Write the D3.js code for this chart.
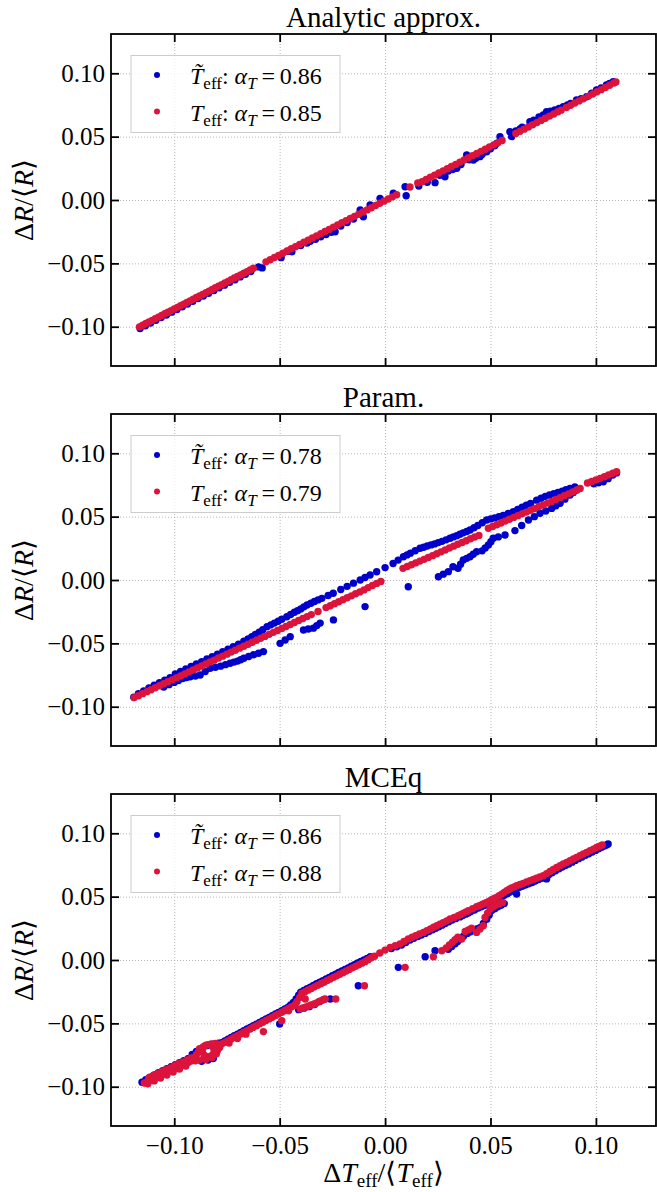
<!DOCTYPE html>
<html>
<head>
<meta charset="utf-8">
<script src="https://cdn.jsdelivr.net/npm/d3@7"></script>
<style>
html, body { margin: 0; padding: 0; background: #fff; }
svg { display: block; }
svg text { font-family: "Liberation Serif", "Times New Roman", serif; }
</style>
</head>
<body>
<svg id="chart" width="657" height="1192"></svg>
<script>
// ---- Panel titles, legend values and ticks ----
const panelTitles = ["Analytic approx.", "Param.", "MCEq"];
const alphaTilde = ["0.86", "0.78", "0.86"];
const alphaPlain = ["0.85", "0.79", "0.88"];
const xTicks = [-0.10, -0.05, 0.00, 0.05, 0.10];
const yTicks = [-0.10, -0.05, 0.00, 0.05, 0.10];

// ---- Analytic approx.: [ΔT/<T>, ΔR/<R>] ----
const analyticTilde = [
  [-0.1162,-0.1014],[-0.1137,-0.0992],[-0.1112,-0.0971],[-0.1087,-0.0949],[-0.1062,-0.0928],[-0.1037,-0.0907],
  [-0.1012,-0.0885],[-0.0987,-0.0864],[-0.0962,-0.0843],[-0.0937,-0.0821],[-0.0912,-0.0800],[-0.0887,-0.0778],
  [-0.0862,-0.0757],[-0.0837,-0.0736],[-0.0812,-0.0714],[-0.0787,-0.0693],[-0.0762,-0.0672],[-0.0737,-0.0650],
  [-0.0712,-0.0629],[-0.0687,-0.0607],[-0.0662,-0.0586],[-0.0637,-0.0565],
  [-0.0583,-0.0536],[-0.0600,-0.0528],[-0.0493,-0.0455],[-0.0442,-0.0408],[-0.0460,-0.0405],[-0.0400,-0.0360],
  [-0.0370,-0.0339],[-0.0355,-0.0325],[-0.0330,-0.0310],[-0.0305,-0.0290],[-0.0280,-0.0272],[-0.0255,-0.0255],
  [-0.0237,-0.0250],[-0.0210,-0.0205],[-0.0180,-0.0178],[-0.0150,-0.0150],[-0.0118,-0.0079],[-0.0103,-0.0132],
  [-0.0071,-0.0039],[-0.0024,0.0013],[0.0039,0.0053],[0.0095,0.0105],[0.0100,0.0034],[0.0160,0.0110],
  [0.0200,0.0140],[0.0237,0.0137],[0.0260,0.0195],[0.0284,0.0184],[0.0300,0.0228],[0.0320,0.0240],
  [0.0340,0.0250],[0.0360,0.0280],[0.0387,0.0355],[0.0400,0.0318],[0.0419,0.0315],[0.0430,0.0330],
  [0.0450,0.0342],[0.0460,0.0360],[0.0482,0.0381],[0.0500,0.0405],[0.0520,0.0428],[0.0529,0.0447],
  [0.0545,0.0500],[0.0592,0.0539],[0.0600,0.0500],[0.0620,0.0545],[0.0640,0.0560],[0.0650,0.0575],
  [0.0687,0.0618],[0.0705,0.0630],[0.0730,0.0655],[0.0750,0.0672],[0.0766,0.0696],[0.0785,0.0700],
  [0.0805,0.0710],[0.0825,0.0722],[0.0845,0.0736],[0.0865,0.0750],[0.0880,0.0762],[0.0908,0.0789],
  [0.0930,0.0800],[0.0956,0.0815],[0.0980,0.0842],[0.1003,0.0868],[0.1025,0.0885],[0.1050,0.0907],
  [0.1065,0.0920],[0.1082,0.0933]
];
const analyticPlain = [
  [-0.1165,-0.1001],[-0.1150,-0.0988],[-0.1135,-0.0975],[-0.1120,-0.0963],[-0.1105,-0.0950],[-0.1090,-0.0937],
  [-0.1075,-0.0924],[-0.1060,-0.0911],[-0.1045,-0.0898],[-0.1030,-0.0886],[-0.1015,-0.0873],[-0.1000,-0.0860],
  [-0.0985,-0.0847],[-0.0970,-0.0834],[-0.0955,-0.0822],[-0.0940,-0.0809],[-0.0925,-0.0796],[-0.0910,-0.0783],
  [-0.0895,-0.0770],[-0.0880,-0.0757],[-0.0865,-0.0745],[-0.0850,-0.0732],[-0.0835,-0.0719],[-0.0820,-0.0706],
  [-0.0805,-0.0693],[-0.0790,-0.0680],[-0.0775,-0.0668],[-0.0760,-0.0655],[-0.0745,-0.0642],[-0.0730,-0.0629],
  [-0.0715,-0.0616],[-0.0700,-0.0604],[-0.0685,-0.0591],[-0.0670,-0.0578],[-0.0655,-0.0565],[-0.0640,-0.0552],
  [-0.0625,-0.0539],
  [-0.0565,-0.0488],[-0.0545,-0.0471],[-0.0525,-0.0454],[-0.0505,-0.0437],[-0.0485,-0.0420],[-0.0465,-0.0403],
  [-0.0445,-0.0385],[-0.0425,-0.0368],[-0.0405,-0.0351],[-0.0385,-0.0334],[-0.0365,-0.0317],[-0.0345,-0.0300],
  [-0.0325,-0.0283],[-0.0305,-0.0266],[-0.0285,-0.0249],[-0.0265,-0.0232],[-0.0245,-0.0214],[-0.0225,-0.0197],
  [-0.0205,-0.0180],[-0.0185,-0.0163],[-0.0165,-0.0146],[-0.0145,-0.0129],[-0.0125,-0.0112],[-0.0105,-0.0095],
  [-0.0085,-0.0078],[-0.0065,-0.0061],[-0.0045,-0.0043],[-0.0025,-0.0026],[-0.0005,-0.0009],[0.0015,0.0008],
  [0.0035,0.0025],[0.0055,0.0042],
  [0.0118,0.0102],[0.0155,0.0135],[0.0175,0.0145],[0.0195,0.0162],[0.0215,0.0179],[0.0235,0.0196],
  [0.0255,0.0213],[0.0275,0.0230],[0.0295,0.0247],[0.0315,0.0264],[0.0335,0.0281],[0.0355,0.0299],
  [0.0375,0.0316],[0.0395,0.0333],[0.0415,0.0350],[0.0435,0.0367],[0.0455,0.0384],[0.0475,0.0401],
  [0.0495,0.0418],[0.0515,0.0435],[0.0535,0.0452],[0.0555,0.0470],
  [0.0620,0.0525],[0.0640,0.0542],[0.0660,0.0559],[0.0680,0.0576],[0.0700,0.0594],[0.0720,0.0611],
  [0.0740,0.0628],[0.0760,0.0645],[0.0780,0.0662],[0.0800,0.0679],[0.0820,0.0696],[0.0835,0.0709],
  [0.0860,0.0730],[0.0880,0.0747],[0.0900,0.0765],[0.0920,0.0782],[0.0940,0.0799],
  [0.0965,0.0820],[0.0985,0.0837],[0.1005,0.0854],[0.1025,0.0871],[0.1045,0.0888],[0.1065,0.0906],
  [0.1085,0.0923],[0.1095,0.0931]
];

// ---- Param. ----
const paramTilde = [
  [-0.1192,-0.0925],[-0.1170,-0.0898],[-0.1145,-0.0875],[-0.1120,-0.0852],[-0.1095,-0.0831],[-0.1070,-0.0811],
  [-0.1045,-0.0791],[-0.1020,-0.0771],[-0.0995,-0.0741],[-0.0970,-0.0722],[-0.0945,-0.0702],[-0.0920,-0.0683],
  [-0.0895,-0.0663],[-0.0870,-0.0644],[-0.0845,-0.0624],[-0.0820,-0.0605],[-0.0795,-0.0585],[-0.0770,-0.0566],
  [-0.0745,-0.0546],[-0.0720,-0.0527],[-0.0695,-0.0507],[-0.0670,-0.0483],[-0.0650,-0.0466],[-0.0632,-0.0448],
  [-0.0615,-0.0430],[-0.0597,-0.0411],[-0.0580,-0.0392],[-0.0560,-0.0368],[-0.0542,-0.0354],[-0.0525,-0.0340],
  [-0.0507,-0.0325],[-0.0490,-0.0310],[-0.0466,-0.0290],[-0.0448,-0.0272],[-0.0430,-0.0255],[-0.0415,-0.0242],
  [-0.0400,-0.0228],[-0.0385,-0.0212],[-0.0370,-0.0197],[-0.0352,-0.0183],[-0.0335,-0.0170],[-0.0318,-0.0157],
  [-0.0300,-0.0145],[-0.0270,-0.0122],[-0.0246,-0.0105],[-0.0210,-0.0075],[-0.0180,-0.0050],[-0.0150,-0.0025],
  [-0.0118,0.0000],[-0.0095,0.0020],[-0.0071,0.0039],[-0.0040,0.0065],[0.0000,0.0098],[0.0038,0.0130],
  [0.0062,0.0157],[0.0087,0.0184],[0.0104,0.0198],[0.0120,0.0212],[0.0143,0.0231],[0.0166,0.0250],
  [0.0183,0.0259],[0.0200,0.0268],[0.0218,0.0277],[0.0235,0.0285],[0.0252,0.0295],[0.0270,0.0305],
  [0.0289,0.0317],[0.0308,0.0329],[0.0324,0.0340],[0.0340,0.0350],[0.0355,0.0361],[0.0370,0.0372],
  [0.0387,0.0383],[0.0403,0.0394],[0.0422,0.0412],[0.0440,0.0430],[0.0461,0.0452],[0.0482,0.0473],
  [0.0501,0.0482],[0.0520,0.0490],[0.0540,0.0500],[0.0560,0.0510],[0.0584,0.0525],[0.0608,0.0539],
  [0.0629,0.0557],[0.0650,0.0575],[0.0670,0.0590],[0.0690,0.0605],[0.0719,0.0630],[0.0740,0.0645],
  [0.0760,0.0660],[0.0780,0.0671],[0.0800,0.0682],[0.0820,0.0691],[0.0840,0.0700],[0.0858,0.0712],
  [0.0877,0.0723],[0.0900,0.0735],[0.0990,0.0760],[0.1012,0.0768],[0.1035,0.0775],[0.1058,0.0800],
  [0.1080,0.0828],[0.1098,0.0845],
  [-0.1050,-0.0845],[-0.1025,-0.0826],[-0.1000,-0.0808],[-0.0980,-0.0793],[-0.0960,-0.0778],[-0.0942,-0.0770],
  [-0.0924,-0.0763],[-0.0900,-0.0757],[-0.0877,-0.0750],[-0.0853,-0.0723],[-0.0830,-0.0697],[-0.0805,-0.0688],
  [-0.0780,-0.0680],[-0.0757,-0.0668],[-0.0735,-0.0657],[-0.0717,-0.0648],[-0.0700,-0.0640],[-0.0685,-0.0629],
  [-0.0670,-0.0618],[-0.0647,-0.0604],[-0.0624,-0.0590],[-0.0600,-0.0578],[-0.0577,-0.0565],[-0.0498,-0.0500],
  [-0.0474,-0.0473],[-0.0450,-0.0447],[-0.0387,-0.0394],[-0.0364,-0.0387],[-0.0340,-0.0380],[-0.0324,-0.0360],
  [-0.0308,-0.0340],[-0.0245,-0.0315],[-0.0095,-0.0210],[0.0110,-0.0053],[0.0253,0.0026],[0.0276,0.0046],
  [0.0300,0.0066],[0.0322,0.0105],[0.0346,0.0092],[0.0358,0.0125],[0.0371,0.0158],[0.0387,0.0171],
  [0.0403,0.0184],[0.0418,0.0203],[0.0434,0.0223],[0.0460,0.0230],[0.0475,0.0253],[0.0490,0.0276],
  [0.0502,0.0302],[0.0513,0.0329],[0.0537,0.0340],[0.0569,0.0355],[0.0616,0.0390],[0.0648,0.0430],
  [0.0680,0.0473],[0.0708,0.0500],[0.0735,0.0526],[0.0762,0.0545],[0.0790,0.0565],[0.0810,0.0585],
  [0.0830,0.0605],[0.0853,0.0638],[0.0877,0.0670],[0.0893,0.0690],[0.0908,0.0710]
];
const paramPlain = [
  [-0.1190,-0.0928],[-0.1170,-0.0913],[-0.1150,-0.0897],[-0.1130,-0.0881],[-0.1110,-0.0866],[-0.1090,-0.0850],
  [-0.1070,-0.0835],[-0.1050,-0.0819],[-0.1030,-0.0803],[-0.1010,-0.0788],[-0.0990,-0.0772],[-0.0970,-0.0757],
  [-0.0950,-0.0741],[-0.0930,-0.0725],[-0.0910,-0.0710],[-0.0890,-0.0694],[-0.0870,-0.0679],[-0.0850,-0.0663],
  [-0.0830,-0.0647],[-0.0810,-0.0632],[-0.0790,-0.0616],[-0.0770,-0.0601],[-0.0750,-0.0585],[-0.0730,-0.0569],
  [-0.0710,-0.0554],[-0.0690,-0.0538],[-0.0670,-0.0523],[-0.0650,-0.0507],[-0.0630,-0.0491],[-0.0610,-0.0476],
  [-0.0590,-0.0460],[-0.0570,-0.0445],[-0.0550,-0.0429],[-0.0530,-0.0413],[-0.0510,-0.0398],[-0.0490,-0.0382],
  [-0.0470,-0.0367],[-0.0450,-0.0351],[-0.0430,-0.0335],[-0.0410,-0.0320],[-0.0390,-0.0304],[-0.0370,-0.0289],
  [-0.0350,-0.0273],[-0.0318,-0.0248],[-0.0280,-0.0218],[-0.0260,-0.0203],[-0.0240,-0.0187],[-0.0220,-0.0172],
  [-0.0200,-0.0156],[-0.0180,-0.0140],[-0.0160,-0.0125],[-0.0140,-0.0109],[-0.0120,-0.0094],[-0.0100,-0.0078],
  [-0.0080,-0.0060],[-0.0060,-0.0043],[-0.0040,-0.0027],[-0.0020,-0.0012],
  [0.0085,0.0092],[0.0105,0.0106],[0.0125,0.0120],[0.0145,0.0135],[0.0165,0.0149],[0.0185,0.0163],
  [0.0205,0.0177],[0.0225,0.0192],[0.0245,0.0207],[0.0265,0.0222],[0.0285,0.0237],[0.0305,0.0252],
  [0.0325,0.0267],[0.0345,0.0282],[0.0365,0.0296],[0.0385,0.0310],[0.0405,0.0325],[0.0425,0.0339],
  [0.0445,0.0352],
  [0.0490,0.0408],[0.0510,0.0422],[0.0530,0.0436],[0.0550,0.0450],[0.0570,0.0465],[0.0590,0.0479],
  [0.0610,0.0494],[0.0630,0.0508],[0.0650,0.0522],[0.0670,0.0536],[0.0690,0.0550],[0.0710,0.0564],
  [0.0730,0.0578],[0.0750,0.0593],[0.0770,0.0607],[0.0790,0.0620],[0.0810,0.0635],[0.0830,0.0650],
  [0.0850,0.0665],[0.0870,0.0680],[0.0890,0.0695],[0.0910,0.0710],[0.0925,0.0722],
  [0.0960,0.0765],[0.0980,0.0777],[0.1000,0.0789],[0.1020,0.0802],[0.1040,0.0815],[0.1060,0.0829],
  [0.1080,0.0843],[0.1098,0.0854]
];

// ---- MCEq ----
const mceqTilde = [
  [-0.1153,-0.0965],[-0.1135,-0.0945],[-0.1115,-0.0925],[-0.1095,-0.0908],[-0.1075,-0.0890],[-0.1055,-0.0874],
  [-0.1035,-0.0858],[-0.1015,-0.0842],[-0.0995,-0.0826],[-0.0975,-0.0810],[-0.0955,-0.0794],[-0.0935,-0.0778],
  [-0.0915,-0.0745],[-0.0895,-0.0722],[-0.0870,-0.0700],[-0.0845,-0.0676],[-0.0815,-0.0664],[-0.0790,-0.0656],
  [-0.0870,-0.0800],[-0.0840,-0.0790],[-0.0815,-0.0778],
  [-0.0775,-0.0652],[-0.0760,-0.0638],[-0.0745,-0.0625],[-0.0730,-0.0611],[-0.0715,-0.0598],[-0.0700,-0.0585],
  [-0.0685,-0.0572],[-0.0670,-0.0558],[-0.0655,-0.0545],[-0.0640,-0.0532],[-0.0625,-0.0519],[-0.0610,-0.0506],
  [-0.0595,-0.0492],[-0.0580,-0.0479],[-0.0565,-0.0466],[-0.0550,-0.0453],[-0.0535,-0.0440],[-0.0520,-0.0426],
  [-0.0505,-0.0413],[-0.0490,-0.0400],[-0.0475,-0.0387],[-0.0500,-0.0505],
  [-0.0460,-0.0372],[-0.0448,-0.0355],[-0.0435,-0.0335],[-0.0422,-0.0308],[-0.0410,-0.0278],[-0.0400,-0.0255],
  [-0.0385,-0.0240],[-0.0370,-0.0227],[-0.0355,-0.0214],[-0.0340,-0.0201],[-0.0325,-0.0188],[-0.0310,-0.0175],
  [-0.0295,-0.0163],[-0.0280,-0.0150],[-0.0265,-0.0137],[-0.0250,-0.0124],[-0.0235,-0.0112],[-0.0220,-0.0099],
  [-0.0205,-0.0087],[-0.0190,-0.0074],[-0.0175,-0.0062],[-0.0160,-0.0049],[-0.0145,-0.0037],[-0.0130,-0.0024],
  [-0.0115,-0.0012],[-0.0100,0.0001],[-0.0085,0.0013],[-0.0070,0.0027],
  [-0.0410,-0.0392],[-0.0385,-0.0380],[-0.0360,-0.0368],[-0.0335,-0.0352],[-0.0310,-0.0328],[-0.0290,-0.0312],
  [-0.0260,-0.0308],[-0.0127,-0.0203],[0.0063,-0.0058],[0.0190,0.0026],[0.0237,0.0073],
  [0.0030,0.0090],[0.0055,0.0104],[0.0078,0.0118],[0.0098,0.0138],[0.0118,0.0158],[0.0136,0.0171],
  [0.0155,0.0185],[0.0172,0.0197],[0.0190,0.0210],[0.0208,0.0224],[0.0225,0.0238],[0.0240,0.0250],
  [0.0255,0.0262],[0.0270,0.0275],[0.0285,0.0288],[0.0302,0.0302],[0.0318,0.0315],[0.0336,0.0327],
  [0.0355,0.0340],[0.0368,0.0351],[0.0382,0.0362],[0.0394,0.0371],[0.0405,0.0380],[0.0424,0.0395],
  [0.0442,0.0410],[0.0456,0.0420],[0.0470,0.0430],[0.0481,0.0437],[0.0492,0.0445],[0.0503,0.0455],
  [0.0515,0.0465],[0.0528,0.0475],[0.0540,0.0485],[0.0552,0.0497],[0.0565,0.0510],[0.0578,0.0523],
  [0.0590,0.0535],[0.0601,0.0545],[0.0612,0.0555],[0.0624,0.0564],[0.0635,0.0572],[0.0650,0.0582],
  [0.0665,0.0592],[0.0681,0.0602],[0.0697,0.0612],[0.0712,0.0623],[0.0728,0.0635],[0.0744,0.0645],
  [0.0760,0.0655],[0.0776,0.0672],[0.0792,0.0688],[0.0808,0.0704],[0.0825,0.0720],[0.0840,0.0733],
  [0.0855,0.0745],[0.0871,0.0758],[0.0887,0.0772],[0.0902,0.0786],[0.0918,0.0800],[0.0934,0.0813],
  [0.0950,0.0826],[0.0966,0.0839],[0.0982,0.0852],[0.0998,0.0865],[0.1013,0.0878],[0.1027,0.0889],
  [0.1040,0.0900],[0.1050,0.0908],[0.1058,0.0915],
  [0.0300,0.0085],[0.0316,0.0106],[0.0332,0.0128],[0.0344,0.0146],[0.0355,0.0165],[0.0372,0.0188],
  [0.0390,0.0210],[0.0405,0.0222],[0.0420,0.0235],[0.0435,0.0245],[0.0450,0.0255],[0.0466,0.0288],
  [0.0482,0.0322],[0.0494,0.0356],[0.0505,0.0390],[0.0520,0.0405],[0.0535,0.0420],[0.0550,0.0432],
  [0.0565,0.0445],[0.0624,0.0520],[0.0766,0.0640]
];
const mceqPlain = [
  [-0.1142,-0.0971],[-0.1127,-0.0959],[-0.1112,-0.0947],[-0.1097,-0.0936],[-0.1082,-0.0924],[-0.1067,-0.0912],
  [-0.1052,-0.0900],[-0.1037,-0.0889],[-0.1022,-0.0877],[-0.1007,-0.0865],[-0.0992,-0.0854],[-0.0977,-0.0842],
  [-0.0962,-0.0830],[-0.0947,-0.0819],[-0.0932,-0.0807],[-0.0917,-0.0795],
  [-0.1120,-0.0928],[-0.1100,-0.0913],[-0.1080,-0.0897],[-0.1060,-0.0882],[-0.1040,-0.0866],[-0.1020,-0.0851],
  [-0.1000,-0.0835],[-0.0980,-0.0819],[-0.0960,-0.0804],[-0.0940,-0.0788],[-0.0920,-0.0773],
  [-0.1125,-0.0977],[-0.1095,-0.0954],[-0.1065,-0.0931],[-0.1035,-0.0907],[-0.1005,-0.0884],[-0.0975,-0.0860],
  [-0.0945,-0.0837],
  [-0.0867,-0.0716],[-0.0811,-0.0716],[-0.0839,-0.0668],[-0.0839,-0.0764],[-0.0859,-0.0683],[-0.0819,-0.0683],
  [-0.0859,-0.0749],[-0.0819,-0.0749],
  [-0.0905,-0.0770],[-0.0895,-0.0745],[-0.0885,-0.0725],[-0.0880,-0.0700],[-0.0865,-0.0690],[-0.0850,-0.0672],
  [-0.0825,-0.0662],[-0.0805,-0.0658],[-0.0790,-0.0665],[-0.0785,-0.0690],[-0.0795,-0.0715],[-0.0800,-0.0740],
  [-0.0820,-0.0770],[-0.0850,-0.0785],[-0.0880,-0.0790],[-0.0900,-0.0795],
  [-0.0775,-0.0663],[-0.0760,-0.0650],[-0.0745,-0.0637],[-0.0730,-0.0623],[-0.0715,-0.0610],[-0.0700,-0.0597],
  [-0.0685,-0.0584],[-0.0670,-0.0570],[-0.0655,-0.0557],[-0.0640,-0.0544],[-0.0625,-0.0531],[-0.0610,-0.0518],
  [-0.0595,-0.0504],[-0.0580,-0.0491],[-0.0565,-0.0478],[-0.0550,-0.0465],[-0.0535,-0.0452],[-0.0520,-0.0438],
  [-0.0505,-0.0425],[-0.0490,-0.0412],[-0.0475,-0.0399],[-0.0460,-0.0385],
  [-0.0740,-0.0655],[-0.0700,-0.0620],[-0.0660,-0.0585],
  [-0.0577,-0.0565],[-0.0490,-0.0479],[-0.0458,-0.0400],[-0.0427,-0.0353],
  [-0.0445,-0.0370],[-0.0430,-0.0360],[-0.0418,-0.0330],[-0.0405,-0.0295],[-0.0395,-0.0262],
  [-0.0380,-0.0250],[-0.0365,-0.0237],[-0.0350,-0.0225],[-0.0335,-0.0212],[-0.0320,-0.0200],[-0.0305,-0.0187],
  [-0.0290,-0.0175],[-0.0275,-0.0162],[-0.0260,-0.0150],[-0.0245,-0.0137],[-0.0230,-0.0125],[-0.0215,-0.0112],
  [-0.0200,-0.0100],[-0.0185,-0.0087],[-0.0170,-0.0075],[-0.0155,-0.0062],[-0.0140,-0.0050],[-0.0125,-0.0038],
  [-0.0110,-0.0025],[-0.0095,-0.0013],[-0.0080,0.0002],[-0.0065,0.0018],[-0.0050,0.0030],
  [-0.0403,-0.0386],[-0.0390,-0.0378],[-0.0379,-0.0308],[-0.0375,-0.0370],[-0.0362,-0.0362],[-0.0350,-0.0355],
  [-0.0337,-0.0347],[-0.0325,-0.0338],[-0.0312,-0.0328],[-0.0298,-0.0317],[-0.0284,-0.0308],[-0.0234,-0.0308],
  [-0.0098,-0.0203],
  [-0.0025,0.0055],[0.0000,0.0078],[0.0024,0.0100],[0.0048,0.0113],[0.0071,0.0126],[0.0090,0.0146],
  [0.0110,0.0166],[0.0128,0.0179],[0.0145,0.0192],[0.0163,0.0205],[0.0182,0.0218],[0.0198,0.0232],
  [0.0215,0.0245],[0.0230,0.0258],[0.0245,0.0270],[0.0260,0.0283],[0.0275,0.0295],[0.0292,0.0309],
  [0.0308,0.0323],[0.0328,0.0336],[0.0347,0.0349],[0.0360,0.0360],[0.0372,0.0370],[0.0384,0.0380],
  [0.0395,0.0389],[0.0415,0.0405],[0.0434,0.0420],[0.0447,0.0429],[0.0460,0.0438],[0.0471,0.0446],
  [0.0482,0.0454],[0.0494,0.0465],[0.0505,0.0475],[0.0517,0.0485],[0.0529,0.0494],[0.0541,0.0507],
  [0.0553,0.0520],[0.0565,0.0534],[0.0577,0.0547],[0.0589,0.0558],[0.0600,0.0568],[0.0612,0.0577],
  [0.0624,0.0586],[0.0640,0.0596],[0.0655,0.0605],[0.0671,0.0615],[0.0687,0.0625],[0.0703,0.0635],
  [0.0718,0.0645],[0.0734,0.0655],[0.0750,0.0665],[0.0766,0.0682],[0.0782,0.0698],[0.0798,0.0714],
  [0.0814,0.0730],[0.0830,0.0744],[0.0845,0.0757],[0.0861,0.0770],[0.0877,0.0783],[0.0893,0.0797],
  [0.0908,0.0810],[0.0924,0.0823],[0.0940,0.0836],[0.0956,0.0849],[0.0972,0.0862],[0.0988,0.0875],
  [0.1003,0.0888],[0.1017,0.0898],[0.1030,0.0908],
  [0.0095,-0.0058],[0.0229,0.0026],[0.0269,0.0073],[0.0290,0.0095],[0.0305,0.0118],[0.0320,0.0140],
  [0.0332,0.0160],[0.0345,0.0180],[0.0363,0.0166],[0.0380,0.0225],[0.0395,0.0238],[0.0410,0.0250],
  [0.0434,0.0218],[0.0450,0.0244],[0.0466,0.0270],[0.0474,0.0336],[0.0486,0.0370],[0.0498,0.0402],
  [0.0512,0.0418],[0.0525,0.0432],[0.0542,0.0443],[0.0558,0.0454]
];

const panels = [
  { title: panelTitles[0], tilde: analyticTilde, plain: analyticPlain, aTilde: alphaTilde[0], aPlain: alphaPlain[0] },
  { title: panelTitles[1], tilde: paramTilde,    plain: paramPlain,    aTilde: alphaTilde[1], aPlain: alphaPlain[1] },
  { title: panelTitles[2], tilde: mceqTilde,     plain: mceqPlain,     aTilde: alphaTilde[2], aPlain: alphaPlain[2] }
];

// ---- Layout ----
const plotLeft = 111, plotRight = 656, panelH = 332;
const panelTops = [34, 414, 794];
const colTilde = "#0000cd", colPlain = "#dc143c";
const tickLen = 8, frameW = 1.8;
const tickFont = 25, axisFont = 28, titleFont = 29, legendFont = 24;
const serif = '"Liberation Serif", "Times New Roman", serif';

const svg = d3.select("#chart");
svg.append("rect").attr("width", 657).attr("height", 1192).attr("fill", "#fff");

const x = d3.scaleLinear().domain([-0.13, 0.1285]).range([plotLeft, plotRight]);
const fmt = d3.format(".2f");

// Writes "T̃_eff: α_T = v" (or without the tilde) into a text element
function legendLabel(text, withTilde, value) {
  text.append("tspan").style("font-style", "italic").text(withTilde ? "T\u0303" : "T");
  text.append("tspan").style("font-size", "17px").attr("dy", 5).text("eff");
  text.append("tspan").attr("dy", -5).text(": ");
  text.append("tspan").style("font-style", "italic").text("\u03b1");
  text.append("tspan").style("font-style", "italic").style("font-size", "17px").attr("dy", 5).text("T");
  text.append("tspan").attr("dy", -5).text("\u2009=\u2009" + value);
}

panels.forEach((p, i) => {
  const top = panelTops[i], bottom = top + panelH;
  const y = d3.scaleLinear().domain([-0.131, 0.131]).range([bottom, top]);
  const g = svg.append("g");

  // dotted grid
  const gridStyle = s => {
    s.select(".domain").remove();
    s.selectAll(".tick line").attr("stroke", "#b5b5b5").attr("stroke-width", 1).attr("stroke-dasharray", "1,2");
  };
  g.append("g").attr("transform", `translate(0,${bottom})`)
    .call(d3.axisBottom(x).tickValues(xTicks).tickSize(-panelH).tickFormat(""))
    .call(gridStyle);
  g.append("g").attr("transform", `translate(${plotLeft},0)`)
    .call(d3.axisLeft(y).tickValues(yTicks).tickSize(-(plotRight - plotLeft)).tickFormat(""))
    .call(gridStyle);

  // scatter points: T̃_eff first, T_eff on top
  g.append("g").selectAll("circle").data(p.tilde).join("circle")
    .attr("cx", d => x(d[0])).attr("cy", d => y(d[1])).attr("r", 3.7).attr("fill", colTilde);
  g.append("g").selectAll("circle").data(p.plain).join("circle")
    .attr("cx", d => x(d[0])).attr("cy", d => y(d[1])).attr("r", 3.7).attr("fill", colPlain);

  // inward ticks on all four sides
  const tickStyle = (s, keepText) => {
    s.attr("font-family", null).attr("font-size", null);
    s.select(".domain").remove();
    s.selectAll(".tick line").attr("stroke", "#000").attr("stroke-width", frameW);
    s.selectAll(".tick text").attr("fill", "#000")
      .style("font-size", tickFont + "px").style("font-family", serif);
    if (!keepText) s.selectAll(".tick text").remove();
  };
  const isLast = i === panels.length - 1;
  g.append("g").attr("transform", `translate(0,${bottom})`)
    .call(d3.axisBottom(x).tickValues(xTicks).tickSize(-tickLen).tickPadding(10).tickFormat(fmt))
    .call(s => tickStyle(s, isLast));
  g.append("g").attr("transform", `translate(0,${top})`)
    .call(d3.axisTop(x).tickValues(xTicks).tickSize(-tickLen).tickFormat(""))
    .call(s => tickStyle(s, false));
  g.append("g").attr("transform", `translate(${plotLeft},0)`)
    .call(d3.axisLeft(y).tickValues(yTicks).tickSize(-tickLen).tickPadding(6).tickFormat(fmt))
    .call(s => tickStyle(s, true));
  g.append("g").attr("transform", `translate(${plotRight},0)`)
    .call(d3.axisRight(y).tickValues(yTicks).tickSize(-tickLen).tickFormat(""))
    .call(s => tickStyle(s, false));

  // frame
  g.append("rect").attr("x", plotLeft).attr("y", top)
    .attr("width", plotRight - plotLeft).attr("height", panelH)
    .attr("fill", "none").attr("stroke", "#000").attr("stroke-width", frameW);

  // title
  g.append("text").attr("x", (plotLeft + plotRight) / 2).attr("y", top - 7)
    .attr("text-anchor", "middle").style("font-size", titleFont + "px").text(p.title);

  // y label ΔR/⟨R⟩
  const yl = g.append("text")
    .attr("transform", `translate(33,${(top + bottom) / 2}) rotate(-90)`)
    .attr("text-anchor", "middle").style("font-size", axisFont + "px");
  yl.append("tspan").text("\u0394");
  yl.append("tspan").style("font-style", "italic").text("R");
  yl.append("tspan").text("/\u27e8");
  yl.append("tspan").style("font-style", "italic").text("R");
  yl.append("tspan").text("\u27e9");

  // legend
  const lx = 131, ly = top + 21.5, lw = 209, lh = 77;
  const lg = g.append("g");
  lg.append("rect").attr("x", lx).attr("y", ly).attr("width", lw).attr("height", lh)
    .attr("fill", "#fff").attr("fill-opacity", 0.8).attr("stroke", "#cccccc").attr("stroke-width", 1);
  const rows = [
    { color: colTilde, tilde: true, value: p.aTilde, dy: 19.5 },
    { color: colPlain, tilde: false, value: p.aPlain, dy: 56 }
  ];
  rows.forEach(r => {
    lg.append("circle").attr("cx", 157).attr("cy", ly + r.dy).attr("r", 3).attr("fill", r.color);
    const t = lg.append("text").attr("x", 190).attr("y", ly + r.dy + 9).style("font-size", legendFont + "px");
    legendLabel(t, r.tilde, r.value);
  });

  // x label under the last panel
  if (isLast) {
    const xl = g.append("text").attr("x", (plotLeft + plotRight) / 2).attr("y", 1182)
      .attr("text-anchor", "middle").style("font-size", axisFont + "px");
    xl.append("tspan").text("\u0394");
    xl.append("tspan").style("font-style", "italic").text("T");
    xl.append("tspan").style("font-size", "19px").attr("dy", 5).text("eff");
    xl.append("tspan").attr("dy", -5).text("/\u27e8");
    xl.append("tspan").style("font-style", "italic").text("T");
    xl.append("tspan").style("font-size", "19px").attr("dy", 5).text("eff");
    xl.append("tspan").attr("dy", -5).text("\u27e9");
  }
});
</script>
</body>
</html>
